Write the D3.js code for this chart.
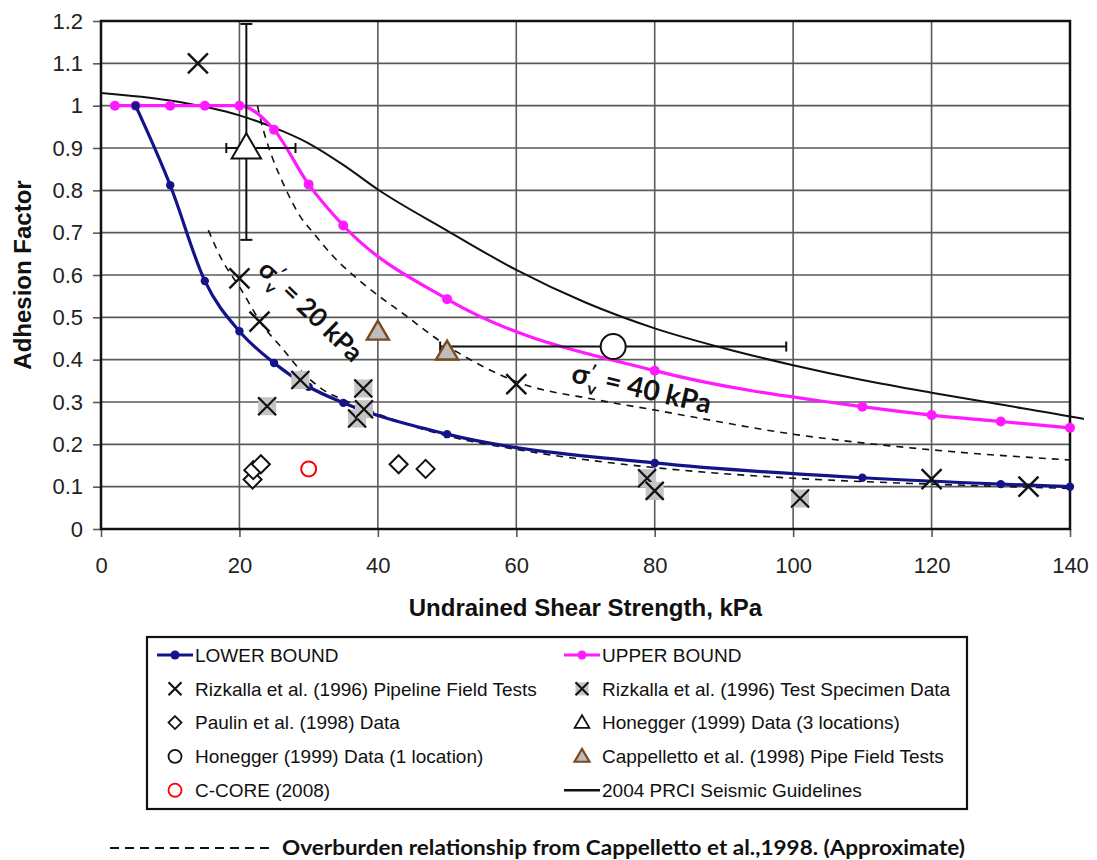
<!DOCTYPE html>
<html>
<head>
<meta charset="utf-8">
<script src="https://cdn.jsdelivr.net/npm/d3@7"></script>
<style>
  body { margin: 0; background: #fff; }
  svg { display: block; }
</style>
</head>
<body>
<div id="chart"></div>
<script>
// tick labels
const xTickValues = [0, 20, 40, 60, 80, 100, 120, 140];
const yTickValues = [0, 0.1, 0.2, 0.3, 0.4, 0.5, 0.6, 0.7, 0.8, 0.9, 1, 1.1, 1.2];

// bound curves [su kPa, adhesion]
const lowerBound = [[5, 1.0], [10, 0.812], [15, 0.586], [20, 0.467], [25, 0.392], [30, 0.336],
  [35, 0.298], [50, 0.224], [80, 0.156], [110, 0.121], [130, 0.106], [140, 0.1]];
const upperBound = [[2, 1.0], [5, 1.0], [10, 1.0], [15, 1.0], [20, 1.0], [25, 0.943], [30, 0.814],
  [35, 0.717], [50, 0.543], [80, 0.374], [110, 0.289], [120, 0.269], [130, 0.254], [140, 0.239]];
const prci2004 = [[0, 1.03], [10, 1.012], [20, 0.977], [25, 0.948], [30, 0.911], [35, 0.86],
  [40, 0.802], [50, 0.705], [60, 0.612], [70, 0.535], [80, 0.474], [90, 0.427], [100, 0.387],
  [110, 0.352], [120, 0.322], [130, 0.294], [140, 0.266], [142, 0.26]];
const overburden20 = [[15.5, 0.706], [17.5, 0.635], [20, 0.572], [23.5, 0.478], [26, 0.43],
  [29, 0.372], [32, 0.33], [35.5, 0.302], [40, 0.272], [50, 0.22], [60, 0.188], [80, 0.145],
  [100, 0.12], [120, 0.106], [140, 0.096]];
const overburden40 = [[22.6, 1.0], [23.2, 0.958], [24.7, 0.88], [26.3, 0.817], [28.8, 0.738],
  [30.7, 0.699], [33.6, 0.643], [38, 0.578], [44.2, 0.502], [48.7, 0.447], [55.3, 0.383],
  [60, 0.348], [71.7, 0.305], [80, 0.281], [100, 0.224], [120, 0.187], [140, 0.163]];

// test data
const rizkallaField = [[14, 1.1], [20, 0.592], [22.9, 0.49], [60, 0.342], [120, 0.118], [134, 0.1]];
const rizkallaSpecimen = [[24, 0.29], [28.8, 0.352], [37, 0.261], [38, 0.283], [37.9, 0.332],
  [78.9, 0.12], [80, 0.09], [101, 0.072]];
const paulin = [[21.9, 0.117], [22, 0.139], [23.1, 0.153], [43, 0.153], [46.9, 0.142]];
const ccore = [[30, 0.142]];
const cappelletto = [[40, 0.466], [50, 0.419]];
// point with ranges: x, y, xLo, xHi, yLo, yHi
const honegger3 = [[21, 0.9, 18.1, 28.1, 0.683, 1.193]];
const honegger1 = [[74, 0.431, 49, 99]];

const legendItems = [
  'LOWER BOUND', 'UPPER BOUND',
  'Rizkalla et al. (1996) Pipeline Field Tests', 'Rizkalla et al. (1996) Test Specimen Data',
  'Paulin et al. (1998) Data', 'Honegger (1999) Data (3 locations)',
  'Honegger (1999) Data (1 location)', 'Cappelletto et al. (1998) Pipe Field Tests',
  'C-CORE (2008)', '2004 PRCI Seismic Guidelines',
];
const legendKinds = ['lower', 'upper', 'xField', 'xSpec', 'diamond', 'tri', 'circle', 'triBrown', 'ccore', 'prci'];

const width = 1097;
const height = 860;
const plot = { left: 101, right: 1070, top: 21, bottom: 529 };
const NAVY = '#14148a';
const MAGENTA = '#ff1aff';
const GRID = '#5a5a5a';
const BROWN = '#7b4a1e';

const svg = d3.select('#chart')
  .append('svg')
  .attr('width', width)
  .attr('height', height);

const x = d3.scaleLinear().domain([0, 140]).range([plot.left, plot.right]);
const y = d3.scaleLinear().domain([0, 1.2]).range([plot.bottom, plot.top]);

// grid
svg.append('g')
  .selectAll('line')
  .data(yTickValues.filter((d) => d > 0))
  .join('line')
  .attr('x1', plot.left)
  .attr('x2', plot.right)
  .attr('y1', (d) => y(d))
  .attr('y2', (d) => y(d))
  .attr('stroke', GRID)
  .attr('stroke-width', 1.6);
svg.append('g')
  .selectAll('line')
  .data(xTickValues.filter((d) => d > 0 && d < 140))
  .join('line')
  .attr('x1', (d) => x(d))
  .attr('x2', (d) => x(d))
  .attr('y1', plot.top)
  .attr('y2', plot.bottom)
  .attr('stroke', GRID)
  .attr('stroke-width', 1.6);

// axes
const xAxis = svg.append('g')
  .attr('transform', `translate(0, ${plot.bottom})`)
  .call(d3.axisBottom(x).tickValues(xTickValues).tickSize(8).tickPadding(20).tickFormat((d) => String(d)));
const yAxis = svg.append('g')
  .attr('transform', `translate(${plot.left}, 0)`)
  .call(d3.axisLeft(y).tickValues(yTickValues).tickSize(8).tickPadding(10).tickFormat((d) => String(d)));
[xAxis, yAxis].forEach((g) => {
  g.select('.domain').remove();
  g.selectAll('.tick line').attr('stroke', GRID).attr('stroke-width', 1.6);
  g.selectAll('.tick text')
    .attr('fill', '#222')
    .style('font-family', '"Liberation Sans", Arial, sans-serif')
    .style('font-size', '22px');
});

// plot border
svg.append('rect')
  .attr('x', plot.left)
  .attr('y', plot.top)
  .attr('width', plot.right - plot.left)
  .attr('height', plot.bottom - plot.top)
  .attr('fill', 'none')
  .attr('stroke', '#111')
  .attr('stroke-width', 2.5);

const line = d3.line()
  .x((d) => x(d[0]))
  .y((d) => y(d[1]))
  .curve(d3.curveMonotoneX);

// overburden dashed curves
[overburden20, overburden40].forEach((d) => {
  svg.append('path')
    .datum(d)
    .attr('d', line)
    .attr('fill', 'none')
    .attr('stroke', '#111')
    .attr('stroke-width', 1.6)
    .attr('stroke-dasharray', '7,6');
});

svg.append('path')
  .datum(prci2004)
  .attr('d', line)
  .attr('fill', 'none')
  .attr('stroke', '#111')
  .attr('stroke-width', 2);

function boundLine(data, color, r) {
  svg.append('path')
    .datum(data)
    .attr('d', line)
    .attr('fill', 'none')
    .attr('stroke', color)
    .attr('stroke-width', 3.2);
  svg.append('g')
    .selectAll('circle')
    .data(data)
    .join('circle')
    .attr('cx', (d) => x(d[0]))
    .attr('cy', (d) => y(d[1]))
    .attr('r', r)
    .attr('fill', color);
}
boundLine(upperBound, MAGENTA, 5);
boundLine(lowerBound, NAVY, 4.2);

// marker shapes
const xPath = (s) => `M${-s},${-s}L${s},${s}M${-s},${s}L${s},${-s}`;
const diamondPath = (s) => `M0,${-s}L${s},0L0,${s}L${-s},0Z`;
const triPath = (s) => `M0,${-s * 1.05}L${s * 1.05},${s * 0.75}L${-s * 1.05},${s * 0.75}Z`;

function drawMarker(g, kind, scale) {
  const k = scale || 1;
  const sw = (w) => w * Math.max(k, 0.9);
  if (kind === 'xField') {
    g.append('path').attr('d', xPath(10 * k)).attr('stroke', '#111').attr('stroke-width', sw(2.4)).attr('fill', 'none');
  } else if (kind === 'xSpec') {
    g.append('rect').attr('x', -9 * k).attr('y', -9 * k).attr('width', 18 * k).attr('height', 18 * k).attr('fill', '#c4c4c4');
    g.append('path').attr('d', xPath(9 * k)).attr('stroke', '#111').attr('stroke-width', sw(2.2)).attr('fill', 'none');
  } else if (kind === 'diamond') {
    g.append('path').attr('d', diamondPath(9 * k)).attr('stroke', '#111').attr('stroke-width', sw(2)).attr('fill', '#fff');
  } else if (kind === 'ccore') {
    g.append('circle').attr('r', 7.5 * k).attr('stroke', '#f00').attr('stroke-width', sw(2)).attr('fill', '#fff');
  } else if (kind === 'circle') {
    g.append('circle').attr('r', 12.5 * k).attr('stroke', '#111').attr('stroke-width', sw(2)).attr('fill', '#fff');
  } else if (kind === 'tri') {
    g.append('path').attr('d', triPath(14 * k)).attr('stroke', '#111').attr('stroke-width', sw(2)).attr('fill', '#fff');
  } else if (kind === 'triBrown') {
    g.append('path').attr('d', triPath(10.5 * k)).attr('stroke', BROWN).attr('stroke-width', sw(2.4)).attr('fill', '#bdbdbd');
  }
}

function scatter(data, kind) {
  svg.append('g')
    .selectAll('g')
    .data(data)
    .join('g')
    .attr('transform', (d) => `translate(${x(d[0])}, ${y(d[1])})`)
    .each(function (d) { drawMarker(d3.select(this), kind); });
}

// error bars
const bars = svg.append('g').attr('stroke', '#111').attr('stroke-width', 2).attr('fill', 'none');
honegger3.forEach((d) => {
  bars.append('line').attr('x1', x(d[0])).attr('x2', x(d[0])).attr('y1', y(d[4])).attr('y2', y(d[5]));
  bars.append('line').attr('x1', x(d[0]) - 6).attr('x2', x(d[0]) + 6).attr('y1', y(d[4])).attr('y2', y(d[4]));
  bars.append('line').attr('x1', x(d[0]) - 6).attr('x2', x(d[0]) + 6).attr('y1', y(d[5])).attr('y2', y(d[5]));
  bars.append('line').attr('x1', x(d[2])).attr('x2', x(d[3])).attr('y1', y(d[1])).attr('y2', y(d[1]));
  bars.append('line').attr('x1', x(d[2])).attr('x2', x(d[2])).attr('y1', y(d[1]) - 5).attr('y2', y(d[1]) + 5);
  bars.append('line').attr('x1', x(d[3])).attr('x2', x(d[3])).attr('y1', y(d[1]) - 5).attr('y2', y(d[1]) + 5);
});
honegger1.forEach((d) => {
  bars.append('line').attr('x1', x(d[2])).attr('x2', x(d[3])).attr('y1', y(d[1])).attr('y2', y(d[1]));
  bars.append('line').attr('x1', x(d[2])).attr('x2', x(d[2])).attr('y1', y(d[1]) - 5).attr('y2', y(d[1]) + 5);
  bars.append('line').attr('x1', x(d[3])).attr('x2', x(d[3])).attr('y1', y(d[1]) - 5).attr('y2', y(d[1]) + 5);
});

scatter(paulin, 'diamond');
scatter(ccore, 'ccore');
scatter(rizkallaSpecimen, 'xSpec');
scatter(rizkallaField, 'xField');
scatter(cappelletto, 'triBrown');
scatter(honegger3, 'tri');
scatter(honegger1, 'circle');

// overburden labels
function sigmaLabel(xv, yv, angle, value, size) {
  const t = svg.append('text')
    .attr('transform', `translate(${x(xv)}, ${y(yv)}) rotate(${angle})`)
    .attr('text-anchor', 'middle')
    .style('font-family', 'Lato, "Open Sans", sans-serif')
    .style('font-weight', 'bold')
    .style('font-size', `${size}px`)
    .attr('fill', '#111');
  t.append('tspan').text('σ');
  t.append('tspan').attr('dy', -9).style('font-size', '17px').text('′');
  t.append('tspan').attr('dx', -5).attr('dy', 17).style('font-size', '17px').text('v');
  t.append('tspan').attr('dy', -8).text(` = ${value} kPa`);
}
sigmaLabel(29.4, 0.5, 44, 20, 26);
sigmaLabel(77.8, 0.31, 13, 40, 28);

// axis titles
svg.append('text')
  .attr('x', (plot.left + plot.right) / 2)
  .attr('y', 616)
  .attr('text-anchor', 'middle')
  .style('font-family', '"Liberation Sans", Arial, sans-serif')
  .style('font-weight', 'bold')
  .style('font-size', '24px')
  .attr('fill', '#111')
  .text('Undrained Shear Strength, kPa');
svg.append('text')
  .attr('transform', `translate(31, ${y(0.6)}) rotate(-90)`)
  .attr('text-anchor', 'middle')
  .style('font-family', '"Liberation Sans", Arial, sans-serif')
  .style('font-weight', 'bold')
  .style('font-size', '24px')
  .attr('fill', '#111')
  .text('Adhesion Factor');

// legend
const legend = svg.append('g');
legend.append('rect')
  .attr('x', 147)
  .attr('y', 637)
  .attr('width', 820)
  .attr('height', 172)
  .attr('fill', '#fff')
  .attr('stroke', '#111')
  .attr('stroke-width', 2.2);

const legendScale = { xField: 0.65, xSpec: 0.72, diamond: 0.72, tri: 0.5, circle: 0.52, triBrown: 0.68, ccore: 0.87 };
const colX = [175, 582];
legendItems.forEach((name, i) => {
  const cx = colX[i % 2];
  const cy = 655 + Math.floor(i / 2) * 33.8;
  const g = legend.append('g').attr('transform', `translate(${cx}, ${cy})`);
  const kind = legendKinds[i];
  if (kind === 'lower' || kind === 'upper' || kind === 'prci') {
    const color = kind === 'lower' ? NAVY : (kind === 'upper' ? MAGENTA : '#111');
    g.append('line').attr('x1', -18).attr('x2', 18).attr('stroke', color).attr('stroke-width', kind === 'prci' ? 2.4 : 3.2);
    if (kind !== 'prci') g.append('circle').attr('r', 4.5).attr('fill', color);
  } else {
    drawMarker(g, kind, legendScale[kind]);
  }
  g.append('text')
    .attr('x', 20)
    .attr('dy', '0.36em')
    .style('font-family', '"Liberation Sans", Arial, sans-serif')
    .style('font-size', '19px')
    .attr('fill', '#111')
    .text(name);
});

// footnote
svg.append('line')
  .attr('x1', 110)
  .attr('x2', 272)
  .attr('y1', 848)
  .attr('y2', 848)
  .attr('stroke', '#111')
  .attr('stroke-width', 2)
  .attr('stroke-dasharray', '9,6');
svg.append('text')
  .attr('x', 282)
  .attr('y', 855)
  .attr('textLength', 683)
  .attr('lengthAdjust', 'spacingAndGlyphs')
  .style('font-family', 'Lato, "Open Sans", sans-serif')
  .style('font-weight', 'bold')
  .style('font-size', '20px')
  .attr('fill', '#111')
  .text('Overburden relationship from Cappelletto et al.,1998. (Approximate)');
</script>
</body>
</html>
